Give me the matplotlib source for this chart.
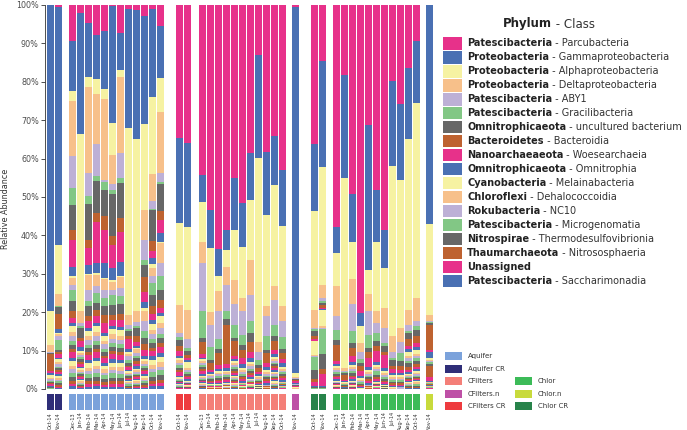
import numpy as np
import matplotlib
matplotlib.use("Agg")
import matplotlib.pyplot as plt
from matplotlib.patches import Rectangle

# taxa, listed from the top of each stack downwards
phylum = ["Patescibacteria", "Proteobacteria", "Proteobacteria", "Proteobacteria",
          "Patescibacteria", "Patescibacteria", "Omnitrophicaeota", "Bacteroidetes",
          "Nanoarchaeaeota", "Omnitrophicaeota", "Cyanobacteria", "Chloroflexi",
          "Rokubacteria", "Patescibacteria", "Nitrospirae", "Thaumarchaeota",
          "Unassigned", "Patescibacteria"]
klass = ["Parcubacteria", "Gammaproteobacteria", "Alphaproteobacteria", "Deltaproteobacteria",
         "ABY1", "Gracilibacteria", "uncultured bacterium", "Bacteroidia",
         "Woesearchaeia", "Omnitrophia", "Melainabacteria", "Dehalococcoidia",
         "NC10", "Microgenomatia", "Thermodesulfovibrionia", "Nitrososphaeria",
         "", "Saccharimonadia"]

# sampling dates per sample type
aquifer_cr_dates = ["Oct-14", "Nov-14"]
aquifer_dates = ["Dec-13", "Jan-14", "Feb-14", "Mar-14", "Apr-14", "May-14",
                 "Jun-14", "Jul-14", "Aug-14", "Sep-14", "Oct-14", "Nov-14"]
cfilters_cr_dates = ["Oct-14", "Nov-14"]
cfilters_dates = ["Dec-13", "Jan-14", "Feb-14", "Mar-14", "Apr-14", "May-14",
                  "Jun-14", "Jul-14", "Aug-14", "Sep-14", "Oct-14"]
cfilters_n_dates = ["Nov-14"]
chlor_cr_dates = ["Oct-14", "Nov-14"]
chlor_dates = ["Dec-13", "Jan-14", "Feb-14", "Mar-14", "Apr-14", "May-14",
               "Jun-14", "Jul-14", "Aug-14", "Sep-14", "Oct-14"]
chlor_n_dates = ["Nov-14"]

# relative abundance (%) per sample, one column per taxon (same order as above)
aquifer_cr = [
    [0.0, 79.8, 8.7, 1.8, 0.2, 0.2, 0.3, 4.3, 0.6, 0.4, 0.8, 0.4, 0.3, 0.3, 0.4, 0.3, 0.3, 0.3],
    [0.5, 62.1, 12.6, 3.1, 0.2, 0.2, 1.8, 3.8, 0.2, 0.9, 0.4, 0.5, 1.0, 2.5, 0.6, 0.5, 1.0, 0.4],
]
aquifer = [
    [9.4, 13.0, 2.6, 14.2, 8.5, 4.3, 6.5, 2.8, 6.8, 2.4, 0.6, 1.7, 1.3, 3.1, 2.6, 1.6, 1.4, 0.8],
    [2.0, 31.7, 46.1, 3.0, 0.8, 0.5, 2.5, 1.0, 1.5, 1.0, 0.5, 0.6, 0.5, 0.5, 0.8, 0.6, 0.6, 0.4],
    [4.8, 13.9, 2.6, 22.4, 6.1, 1.9, 9.6, 2.0, 4.4, 2.3, 0.3, 3.9, 3.0, 1.3, 2.5, 1.4, 1.7, 0.8],
    [7.7, 11.7, 3.7, 13.2, 8.3, 1.3, 8.3, 2.4, 10.6, 2.6, 0.4, 3.1, 1.7, 2.6, 1.7, 1.7, 1.7, 0.9],
    [6.8, 15.2, 2.6, 20.9, 0.7, 2.1, 6.7, 3.5, 8.7, 3.9, 0.3, 2.8, 2.2, 2.0, 2.2, 2.2, 2.6, 0.8],
    [0.3, 30.5, 8.3, 7.5, 1.5, 1.0, 11.0, 2.5, 6.0, 3.0, 0.5, 2.0, 1.5, 2.5, 2.5, 1.5, 1.5, 0.8],
    [7.2, 9.6, 1.9, 19.8, 6.5, 1.3, 9.2, 3.5, 7.8, 3.7, 0.4, 2.8, 2.2, 2.0, 2.5, 1.7, 1.8, 0.8],
    [1.1, 30.9, 48.7, 2.6, 1.0, 0.5, 1.5, 0.8, 2.5, 0.8, 0.5, 0.6, 1.0, 0.8, 0.6, 0.5, 0.6, 0.3],
    [1.3, 33.6, 44.9, 2.7, 1.2, 0.5, 2.0, 1.5, 1.0, 0.5, 0.5, 0.8, 0.8, 0.6, 0.8, 0.8, 0.6, 0.6],
    [2.9, 28.0, 22.4, 8.0, 5.0, 1.5, 3.0, 4.0, 2.5, 1.5, 1.0, 2.5, 2.5, 2.0, 1.5, 1.5, 1.5, 0.8],
    [1.0, 23.0, 20.0, 7.0, 2.0, 0.5, 8.0, 2.5, 2.0, 1.5, 1.0, 2.0, 2.0, 3.0, 3.0, 2.0, 1.5, 1.0],
    [5.5, 13.6, 8.8, 15.8, 2.5, 0.4, 7.1, 2.2, 3.5, 2.2, 0.5, 5.1, 3.5, 3.5, 2.6, 2.2, 1.3, 0.8],
]
cfilters_cr = [
    [34.6, 22.2, 21.3, 7.4, 1.0, 0.8, 1.5, 1.2, 1.5, 0.5, 0.5, 0.6, 0.6, 0.8, 0.5, 0.5, 1.0, 0.5],
    [35.9, 22.0, 21.5, 7.5, 2.5, 0.8, 1.0, 0.8, 0.5, 0.5, 1.5, 0.5, 0.5, 0.5, 0.5, 0.5, 0.5, 0.4],
]
cfilters = [
    [44.3, 7.0, 10.3, 5.6, 12.6, 7.0, 0.9, 3.2, 1.1, 0.3, 0.5, 0.5, 0.4, 0.6, 0.5, 0.6, 0.6, 0.5],
    [53.4, 9.9, 16.7, 3.3, 5.7, 3.4, 0.9, 1.7, 0.5, 0.5, 0.3, 0.4, 0.4, 0.3, 0.4, 0.3, 0.4, 0.3],
    [63.6, 7.0, 4.0, 5.0, 7.4, 2.5, 1.0, 3.3, 1.0, 0.5, 0.5, 0.4, 0.5, 0.4, 0.5, 0.4, 0.5, 0.3],
    [58.5, 5.2, 4.4, 4.8, 6.9, 2.0, 1.5, 10.2, 1.1, 0.6, 0.4, 0.4, 0.4, 0.4, 0.5, 0.4, 0.5, 0.3],
    [45.0, 13.7, 12.9, 6.2, 5.5, 3.5, 0.6, 4.0, 0.9, 0.5, 0.5, 0.5, 0.5, 0.5, 0.5, 0.5, 0.5, 0.4],
    [51.6, 11.4, 13.3, 3.5, 6.1, 2.6, 1.3, 2.2, 1.5, 1.0, 0.5, 0.5, 0.5, 0.5, 0.5, 0.5, 0.5, 0.4],
    [38.5, 12.2, 15.6, 9.2, 6.9, 3.1, 2.2, 2.6, 1.7, 1.0, 0.5, 0.6, 0.6, 0.6, 0.6, 0.5, 0.5, 0.4],
    [12.9, 26.9, 47.9, 2.6, 2.1, 1.3, 0.8, 1.0, 0.6, 0.5, 0.4, 0.3, 0.3, 0.3, 0.3, 0.3, 0.3, 0.2],
    [38.3, 16.3, 23.9, 2.6, 5.2, 3.5, 0.8, 2.5, 1.2, 0.7, 0.5, 0.5, 0.5, 0.5, 0.5, 0.5, 0.5, 0.4],
    [34.0, 12.8, 26.3, 3.7, 6.5, 3.0, 1.3, 2.2, 1.0, 0.8, 0.5, 0.5, 0.5, 0.5, 0.5, 0.5, 0.5, 0.4],
    [43.0, 14.5, 21.0, 3.9, 4.1, 3.2, 1.0, 1.5, 1.0, 1.0, 0.5, 0.5, 0.5, 0.5, 0.5, 0.5, 0.5, 0.4],
]
cfilters_n = [
    [0.4, 95.5, 0.9, 0.3, 0.2, 0.2, 0.2, 0.3, 0.4, 0.2, 0.1, 0.1, 0.1, 0.1, 0.1, 0.1, 0.3, 0.1],
]
chlor_cr = [
    [36.1, 17.6, 25.7, 4.8, 0.3, 0.3, 1.3, 1.0, 0.3, 0.2, 3.5, 0.3, 0.2, 3.5, 2.2, 1.0, 0.8, 0.3],
    [14.6, 27.6, 30.7, 3.4, 0.9, 0.3, 0.5, 1.0, 0.2, 0.2, 4.1, 0.5, 0.3, 6.6, 3.9, 1.3, 3.0, 0.3],
]
chlor = [
    [57.9, 6.7, 8.7, 7.7, 3.6, 2.6, 1.3, 4.1, 0.9, 0.5, 0.5, 0.5, 0.5, 0.5, 0.5, 0.5, 0.5, 0.4],
    [18.3, 26.7, 49.5, 0.8, 0.3, 0.3, 0.5, 1.2, 0.3, 0.3, 0.2, 0.2, 0.2, 0.2, 0.2, 0.2, 0.2, 0.2],
    [49.1, 12.7, 9.6, 6.4, 7.2, 3.1, 1.3, 2.0, 1.5, 0.8, 0.5, 0.5, 0.6, 0.6, 0.6, 0.5, 0.5, 0.4],
    [80.3, 3.3, 4.5, 2.2, 1.8, 1.0, 0.8, 1.3, 1.5, 0.5, 0.5, 0.3, 0.3, 0.3, 0.3, 0.3, 0.3, 0.2],
    [31.3, 37.8, 6.1, 4.6, 6.1, 3.5, 0.9, 1.7, 2.2, 0.8, 0.5, 0.5, 0.5, 0.5, 0.5, 0.5, 0.5, 0.4],
    [48.1, 13.7, 18.0, 2.9, 2.8, 1.9, 1.4, 1.2, 2.9, 0.8, 0.5, 0.5, 0.5, 1.2, 0.5, 0.5, 0.5, 0.4],
    [58.7, 9.8, 10.5, 5.2, 3.9, 0.8, 1.4, 0.8, 3.5, 0.8, 0.5, 0.5, 0.5, 0.5, 0.5, 0.4, 0.4, 0.3],
    [19.7, 22.3, 44.3, 4.0, 1.7, 0.5, 1.4, 1.0, 1.0, 0.5, 0.5, 0.4, 0.4, 0.4, 0.4, 0.4, 0.4, 0.3],
    [25.7, 20.0, 38.5, 3.5, 3.0, 2.0, 1.3, 1.0, 0.8, 0.6, 0.5, 0.4, 0.4, 0.4, 0.4, 0.4, 0.3, 0.3],
    [16.3, 18.7, 44.4, 3.9, 1.5, 0.5, 1.7, 1.7, 0.9, 0.8, 1.0, 0.6, 0.6, 0.6, 1.0, 0.8, 0.5, 0.5],
    [9.4, 16.0, 50.9, 6.1, 1.3, 0.9, 1.7, 1.7, 1.0, 0.8, 1.0, 0.6, 0.6, 0.6, 1.0, 0.8, 0.5, 0.5],
]
chlor_n = [
    [0.0, 57.0, 23.7, 1.5, 0.3, 0.3, 0.6, 6.5, 0.5, 1.5, 0.5, 0.3, 0.3, 0.5, 0.5, 3.0, 0.8, 0.3],
]

# share of the remaining (unlisted) classes, stacked at the bottom
minor_share = [0.09, 0.07, 0.08, 0.06, 0.07, 0.05, 0.08, 0.06,
               0.07, 0.06, 0.05, 0.07, 0.06, 0.05, 0.04, 0.04]

# colours
taxon_palette = ["#E7318A", "#4A70B3", "#F6F2A2", "#F7C08A",
                 "#BDB0D6", "#82C785", "#676767", "#BE6230"]
group_colors = {"Aquifer": "#7BA2DB", "Aquifer CR": "#2F2E78",
                "CFilters": "#F47F78", "CFilters.n": "#BE50A6", "CFilters CR": "#EE3B3F",
                "Chlor": "#3CBB58", "Chlor.n": "#C8DA3C", "Chlor CR": "#27834A"}

samples = [("Aquifer CR", aquifer_cr_dates, aquifer_cr),
           ("Aquifer", aquifer_dates, aquifer),
           ("CFilters CR", cfilters_cr_dates, cfilters_cr),
           ("CFilters", cfilters_dates, cfilters),
           ("CFilters.n", cfilters_n_dates, cfilters_n),
           ("Chlor CR", chlor_cr_dates, chlor_cr),
           ("Chlor", chlor_dates, chlor),
           ("Chlor.n", chlor_n_dates, chlor_n)]
gap_after = [0.79, 1.34, 0.87, 0.66, 1.38, 0.75, 0.62]

pos, labels, strip_col, rows = [], [], [], []
x = 0.0
for gi, (name, dates, vals) in enumerate(samples):
    for d, v in zip(dates, vals):
        pos.append(x)
        labels.append(d)
        strip_col.append(group_colors[name])
        rows.append(v)
        x += 1
    if gi < len(gap_after):
        x += gap_after[gi]
pos = np.array(pos)
ab = np.array(rows)
rest = np.clip(100 - ab.sum(axis=1), 0, None)
layers = np.hstack([ab, np.outer(rest, minor_share)])

W, H = 687, 430
fig = plt.figure(figsize=(W / 100, H / 100), dpi=100)
xl = (-0.21, 48.54)
bw = 0.88

# main stacked bars
ax = fig.add_axes([45 / W, 1 - 389 / H, 390 / W, 384 / H])
bottom = np.zeros(len(pos))
for k in reversed(range(layers.shape[1])):
    ax.bar(pos, layers[:, k], bottom=bottom, width=bw, align="edge",
           color=taxon_palette[k % 8], linewidth=0)
    bottom += layers[:, k]
ax.set_xlim(*xl)
ax.set_ylim(0, 100)
for s in ["top", "right", "bottom"]:
    ax.spines[s].set_visible(False)
ax.spines["left"].set_bounds(0, 100)
ax.spines["left"].set_color("#333333")
ax.spines["left"].set_linewidth(0.6)
ax.set_xticks([])
ax.set_yticks(np.arange(0, 101, 10))
ax.set_yticklabels([f"{v}%" for v in range(0, 101, 10)])
ax.tick_params(axis="y", length=3, width=0.6, color="#333333",
               labelsize=5.8, labelcolor="#4D4D4D", pad=1.5)

# sample type strip with dates
ax2 = fig.add_axes([45 / W, 1 - 410 / H, 390 / W, 16.5 / H])
ax2.bar(pos, np.ones(len(pos)), width=bw, align="edge", color=strip_col, linewidth=0)
ax2.set_xlim(*xl)
ax2.set_ylim(0, 1)
for s in ax2.spines.values():
    s.set_visible(False)
ax2.set_yticks([])
ax2.set_xticks(pos + bw / 2)
ax2.set_xticklabels(labels, rotation=90, fontsize=3.6, color="#333333")
ax2.tick_params(axis="x", length=0, pad=1.5)

# overlay in pixel coordinates for labels and legends
ov = fig.add_axes([0, 0, 1, 1])
ov.set_xlim(0, W)
ov.set_ylim(H, 0)
ov.axis("off")
ov.text(6, 209, "Relative Abundance", rotation=90, fontsize=5.8, color="#333333",
        ha="center", va="center")

renderer = fig.canvas.get_renderer()


def two_part(xp, yp, bold, normal, size):
    t = ov.text(xp, yp, bold, fontsize=size, fontweight="bold", color="#222222",
                va="center", ha="left")
    if normal:
        bb = t.get_window_extent(renderer=renderer)
        xe = ov.transData.inverted().transform((bb.x1, bb.y0))[0]
        ov.text(xe, yp, " - " + normal, fontsize=size, color="#333333",
                va="center", ha="left")


two_part(503, 24, "Phylum", "Class", 8.5)
for i, (p, c) in enumerate(zip(phylum, klass)):
    yc = 43.3 + i * 13.98
    ov.add_patch(Rectangle((443, yc - 6.3), 19, 12.6, color=taxon_palette[i % 8], lw=0))
    two_part(467, yc, p, c, 7)

# sample type legend
leg_items = [("Aquifer", 445, 356), ("Aquifer CR", 445, 368.7), ("CFilters", 445, 381),
             ("CFilters.n", 445, 393.7), ("CFilters CR", 445, 406),
             ("Chlor", 515, 381), ("Chlor.n", 515, 393.7), ("Chlor CR", 515, 406)]
for name, xp, yp in leg_items:
    ov.add_patch(Rectangle((xp, yp - 4.2), 17, 8.4, color=group_colors[name], lw=0))
    ov.text(xp + 23, yp, name, fontsize=5, color="#333333", va="center", ha="left")

fig.savefig("out.png", dpi=100)
